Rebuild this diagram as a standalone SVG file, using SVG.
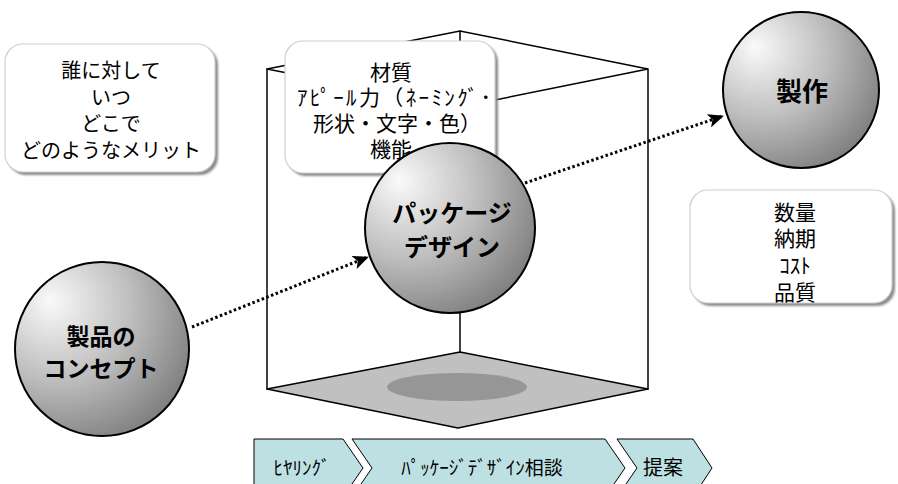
<svg xmlns="http://www.w3.org/2000/svg" width="898" height="484" viewBox="0 0 898 484">
<style>
.edge{stroke:#000;stroke-width:1.5;fill:none;stroke-linecap:round}
.box{fill:#fff;stroke:#cfcfcf;stroke-width:1.2}
.shadow{fill:#8c8c8c;filter:url(#blur)}
.ball{fill:url(#ballGrad);stroke:#000;stroke-width:2}
.t{font-family:"Liberation Sans","Noto Sans CJK JP",sans-serif;fill:#000;text-anchor:middle}
.bt{font-family:"Noto Sans CJK JP",sans-serif;font-weight:bold;fill:#000;text-anchor:middle}
.box-t{font-size:20px}
.chev{fill:#bde0e3;stroke:#000;stroke-width:1}
.dot{stroke:#000;stroke-width:3;stroke-dasharray:2.5 2.5;fill:none}
</style>
<defs>
<radialGradient id="ballGrad" cx="0.3" cy="0.3" r="0.85" fx="0.2" fy="0.22">
<stop offset="0" stop-color="#fafafa"/>
<stop offset="0.5" stop-color="#bdbdbd"/>
<stop offset="1" stop-color="#757575"/>
</radialGradient>
<filter id="blur" x="-10%" y="-10%" width="120%" height="120%"><feGaussianBlur stdDeviation="1.2"/></filter>
<marker id="arrow" markerUnits="userSpaceOnUse" markerWidth="16" markerHeight="14" viewBox="0 0 16 14" refX="15" refY="7" orient="auto">
<path d="M0,0 L16,7 L0,14 L4,7 Z" fill="#000"/>
</marker>
</defs>

<g id="cube">
<polygon points="267,389 460,352 648,389 458,428" fill="#c0c0c0" stroke="#000" stroke-width="1.5" stroke-linejoin="round"/>
<ellipse cx="457" cy="387" rx="70" ry="14" fill="#969696"/>
<line class="edge" x1="460" y1="31" x2="460" y2="352"/>
<line class="edge" x1="267" y1="69" x2="267" y2="389"/>
<line class="edge" x1="648" y1="69" x2="648" y2="389"/>
<polyline class="edge" points="267,69 460,31 648,69 460,107 267,69"/>
</g>

<g id="box-who">
<rect class="shadow" x="8" y="47" width="210" height="128" rx="18"/>
<rect class="box" x="5" y="44" width="210" height="128" rx="18"/>
<text class="t box-t" x="111" y="78">誰に対して</text>
<text class="t box-t" x="111" y="105">いつ</text>
<text class="t box-t" x="111" y="131">どこで</text>
<text class="t box-t" x="111" y="158">どのようなメリット</text>
</g>

<g id="box-material">
<rect class="shadow" x="288" y="44" width="210" height="132" rx="18"/>
<rect class="box" x="285" y="41" width="210" height="132" rx="18"/>
<text class="t" font-size="21" x="391" y="80">材質</text>
<text class="t" font-size="21" x="394" y="105" textLength="194" lengthAdjust="spacing">ｱﾋﾟｰﾙ力（ﾈｰﾐﾝｸﾞ･</text>
<text class="t" font-size="21" x="397" y="131">形状・文字・色）</text>
<text class="t" font-size="21" x="391" y="157">機能</text>
</g>

<g id="box-qty">
<rect class="shadow" x="693" y="193" width="202" height="113" rx="18"/>
<rect class="box" x="690" y="190" width="202" height="113" rx="18"/>
<text class="t" font-size="21" x="795" y="220">数量</text>
<text class="t" font-size="21" x="795" y="246">納期</text>
<text class="t" font-size="21" x="795" y="273">ｺｽﾄ</text>
<text class="t" font-size="21" x="795" y="300">品質</text>
</g>

<g id="connectors">
<line class="dot" x1="192" y1="327" x2="368" y2="257" marker-end="url(#arrow)"/>
<line class="dot" x1="525" y1="183" x2="723" y2="116" marker-end="url(#arrow)"/>
</g>

<g id="node-concept">
<circle class="ball" cx="102" cy="349" r="87"/>
<text class="bt" font-size="23" x="101" y="345">製品の</text>
<text class="bt" font-size="23" x="101" y="377">コンセプト</text>
</g>

<g id="node-package">
<circle class="ball" cx="450" cy="228" r="85"/>
<text class="bt" font-size="24" x="452" y="222">パッケージ</text>
<text class="bt" font-size="24" x="452" y="256">デザイン</text>
</g>

<g id="node-make">
<circle class="ball" cx="801" cy="90" r="78"/>
<text class="bt" font-size="26" x="802" y="101">製作</text>
</g>

<g id="steps">
<g id="step-hearing">
<polygon class="chev" points="254,439 343,439 363,468 343,497 254,497"/>
<text class="t" font-size="19" x="302" y="475">ﾋﾔﾘﾝｸﾞ</text>
</g>
<g id="step-consult">
<polygon class="chev" points="352,439 605,439 625,468 605,497 352,497 372,468"/>
<text class="t" font-size="19" x="482" y="475">ﾊﾟｯｹｰｼﾞﾃﾞｻﾞｲﾝ相談</text>
</g>
<g id="step-propose">
<polygon class="chev" points="617,439 693,439 712,468 693,497 617,497 637,468"/>
<text class="t" font-size="20" x="663" y="475">提案</text>
</g>
</g>
</svg>
